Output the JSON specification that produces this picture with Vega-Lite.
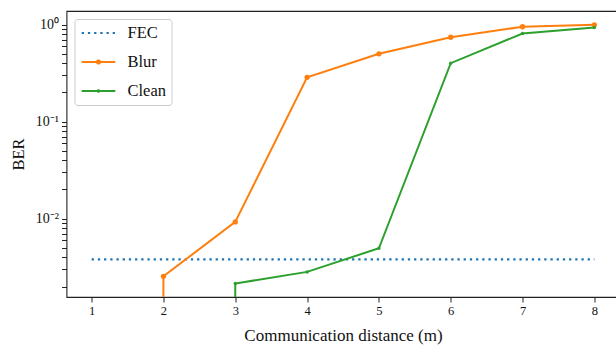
{
  "$schema": "https://vega.github.io/schema/vega-lite/v6.json",
  "width": 553,
  "height": 286,
  "autosize": "none",
  "padding": {"left": 66.5, "top": 11, "right": 0, "bottom": 49},
  "background": "white",
  "config": {
    "font": "Liberation Serif",
    "view": {"stroke": "#222", "strokeWidth": 1.1},
    "axis": {"domain": false, "grid": false, "tickColor": "#222", "labelColor": "#111", "titleColor": "#111", "labelFont": "Liberation Serif", "titleFont": "Liberation Serif", "titleFontWeight": "normal"}
  },
  "datasets": {
    "fec": [
      {"d": 1, "ber": 0.0038, "series": "FEC"},
      {"d": 8, "ber": 0.0038, "series": "FEC"}
    ],
    "main": [
      {"d": 1, "ber": 1e-300, "series": "Blur"},
      {"d": 2, "ber": 0.00255, "series": "Blur"},
      {"d": 3, "ber": 0.00927, "series": "Blur"},
      {"d": 4, "ber": 0.286, "series": "Blur"},
      {"d": 5, "ber": 0.5, "series": "Blur"},
      {"d": 6, "ber": 0.74, "series": "Blur"},
      {"d": 7, "ber": 0.95, "series": "Blur"},
      {"d": 8, "ber": 0.995, "series": "Blur"},
      {"d": 1, "ber": 1e-300, "series": "Clean"},
      {"d": 2, "ber": 1e-300, "series": "Clean"},
      {"d": 3, "ber": 0.00215, "series": "Clean"},
      {"d": 4, "ber": 0.00283, "series": "Clean"},
      {"d": 5, "ber": 0.00496, "series": "Clean"},
      {"d": 6, "ber": 0.4, "series": "Clean"},
      {"d": 7, "ber": 0.81, "series": "Clean"},
      {"d": 8, "ber": 0.935, "series": "Clean"}
    ]
  },
  "layer": [
    {
      "data": {"name": "fec"},
      "mark": {"type": "line", "strokeWidth": 2.3, "strokeDash": [2.3, 3.9], "clip": true},
      "encoding": {
        "x": {
          "field": "d", "type": "quantitative",
          "scale": {"domain": [0.65, 8.35], "nice": false, "zero": false},
          "axis": {"values": [1, 2, 3, 4, 5, 6, 7, 8], "format": "d", "title": "Communication distance (m)", "labelFontSize": 12.5, "titleFontSize": 17, "tickSize": 5, "labelPadding": 2, "titlePadding": 11}
        },
        "y": {
          "field": "ber", "type": "quantitative",
          "scale": {"type": "log", "domain": [0.00156, 1.38], "nice": false},
          "axis": {
            "values": [0.002, 0.003, 0.004, 0.005, 0.006, 0.007, 0.008, 0.009, 0.01, 0.02, 0.03, 0.04, 0.05, 0.06, 0.07, 0.08, 0.09, 0.1, 0.2, 0.3, 0.4, 0.5, 0.6, 0.7, 0.8, 0.9, 1],
            "labelExpr": "abs(datum.value - 1) < 1e-9 ? '10⁰' : abs(datum.value - 0.1) < 1e-9 ? '10⁻¹' : abs(datum.value - 0.01) < 1e-9 ? '10⁻²' : ''",
            "title": "BER", "labelFontSize": 14, "titleFontSize": 16.5, "tickSize": 5, "labelPadding": 3, "titlePadding": 9,
            "labelOverlap": false,
            "encode": {
              "ticks": {
                "update": {
                  "x2": {"signal": "abs(datum.value - 1) < 1e-9 || abs(datum.value - 0.1) < 1e-9 || abs(datum.value - 0.01) < 1e-9 ? -5 : -2.8"}
                }
              }
            }
          }
        },
        "color": {
          "field": "series", "type": "nominal",
          "scale": {"domain": ["FEC", "Blur", "Clean"], "range": ["#1f77b4", "#ff7f0e", "#2ca02c"]},
          "legend": {
            "title": null, "orient": "top-left", "offset": 8,
            "labelFontSize": 16.5, "labelFont": "Liberation Serif", "labelColor": "#111",
            "symbolSize": 256, "symbolOffset": 10, "labelOffset": 20, "rowPadding": 11, "padding": 5,
            "fillColor": "white", "strokeColor": "#cccccc", "cornerRadius": 3,
            "symbolStrokeWidth": 2,
            "encode": {
              "symbols": {
                "update": {
                  "shape": {"signal": "datum.value === 'FEC' ? 'M-2.1,0H2.1' : datum.value === 'Blur' ? 'M-2.1,0H2.1M-0.2,0A0.2,0.2,0,1,1,0.2,0A0.2,0.2,0,1,1,-0.2,0Z' : 'M-2.1,0H2.1M-0.1,0A0.1,0.1,0,1,1,0.1,0A0.1,0.1,0,1,1,-0.1,0Z'"},
                  "strokeDash": {"signal": "datum.value === 'FEC' ? [2.3, 3.9] : [1, 0]"},
                  "fill": {"scale": "color", "field": "value"},
                  "stroke": {"scale": "color", "field": "value"},
                  "strokeWidth": {"value": 2}
                }
              }
            }
          }
        }
      }
    },
    {
      "data": {"name": "main"},
      "mark": {"type": "line", "strokeWidth": 2, "clip": true},
      "encoding": {
        "x": {"field": "d", "type": "quantitative"},
        "y": {"field": "ber", "type": "quantitative"},
        "color": {"field": "series", "type": "nominal"}
      }
    },
    {
      "data": {"name": "main"},
      "mark": {"type": "point", "filled": true, "opacity": 1, "clip": true},
      "encoding": {
        "x": {"field": "d", "type": "quantitative"},
        "y": {"field": "ber", "type": "quantitative"},
        "color": {"field": "series", "type": "nominal"},
        "size": {"field": "series", "type": "ordinal", "scale": {"domain": ["Blur", "Clean"], "range": [28, 12]}, "legend": null}
      }
    }
  ]
}
